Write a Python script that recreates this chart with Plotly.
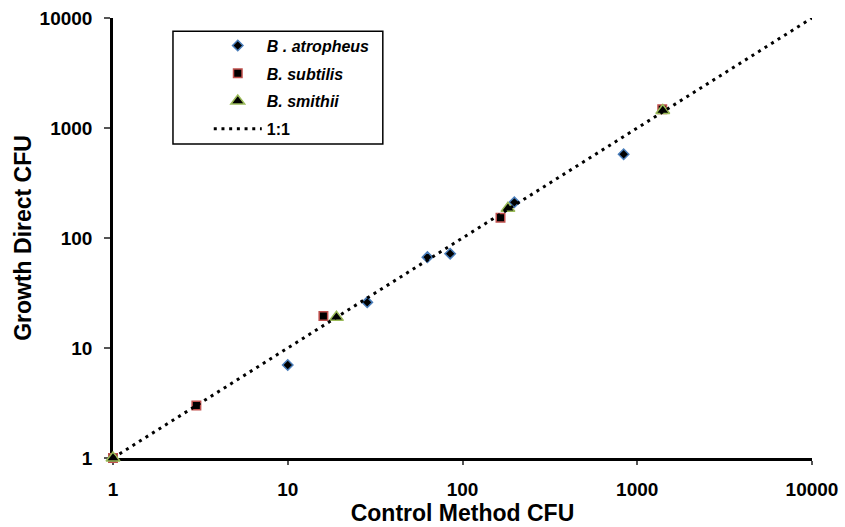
import plotly.graph_objects as go

# Data
atro_x = [10, 28.5, 63, 85, 198, 836]
atro_y = [7, 26, 67, 72, 211, 577]
subt_x = [1, 3, 16, 165, 1390]
subt_y = [1, 3, 19.5, 153, 1480]
smit_x = [1, 19, 182, 1400]
smit_y = [1, 19, 186, 1440]
line_x = [1, 10000]
line_y = [1, 10000]
tick_vals = [1, 10, 100, 1000, 10000]
tick_text = ["1", "10", "100", "1000", "10000"]

FONT = "Liberation Sans, Arial, sans-serif"

fig = go.Figure()
fig.add_trace(go.Scatter(
    x=atro_x, y=atro_y, mode="markers", name="<i>B . atropheus</i>",
    legendgroup="a", cliponaxis=False,
    marker=dict(symbol="diamond", size=8, color="black",
                line=dict(color="#4A7EBB", width=1.5))))
fig.add_trace(go.Scatter(
    x=subt_x, y=subt_y, mode="markers", name="<i>B. subtilis</i>",
    legendgroup="b", cliponaxis=False,
    marker=dict(symbol="square", size=8.5, color="black",
                line=dict(color="#C0504D", width=1.5))))
fig.add_trace(go.Scatter(
    x=smit_x, y=smit_y, mode="markers", name="<i>B. smithii</i>",
    legendgroup="c", cliponaxis=False,
    marker=dict(symbol="triangle-up", size=12, color="black",
                line=dict(color="#9BBB59", width=1.5))))
fig.add_trace(go.Scatter(
    x=line_x, y=line_y, mode="lines", name="1:1", legendgroup="d",
    line=dict(color="black", width=3, dash="3px,4.7px")))

axis_common = dict(
    type="log", range=[0, 4], tickvals=tick_vals, ticktext=tick_text,
    showgrid=False, zeroline=False, showline=True, linecolor="black",
    linewidth=2.5, ticks="outside", tickcolor="#555", tickwidth=1.5,
    automargin=False, layer="below traces",
    tickfont=dict(family=FONT, size=19, color="black", weight="bold"),
)

fig.update_xaxes(**axis_common, ticklen=4, ticklabelstandoff=8,
                 title=dict(text="Control Method CFU", standoff=6,
                            font=dict(family=FONT, size=23, color="black", weight="bold")))
fig.update_yaxes(**axis_common, ticklen=6, ticklabelstandoff=8,
                 title=dict(text="Growth Direct CFU", standoff=2,
                            font=dict(family=FONT, size=23, color="black", weight="bold")))

fig.add_shape(type="rect", xref="paper", yref="paper",
              x0=0.0858, x1=0.386, y0=0.7136, y1=0.970,
              line=dict(color="black", width=1.5), fillcolor="rgba(0,0,0,0)")

fig.update_layout(
    width=845, height=527,
    margin=dict(l=113, r=33, t=18, b=69),
    plot_bgcolor="white", paper_bgcolor="white",
    showlegend=True,
    legend=dict(x=0.137, y=0.976, xanchor="left", yanchor="top",
                bgcolor="rgba(0,0,0,0)", borderwidth=0,
                itemwidth=48, traceorder="grouped", tracegroupgap=4,
                font=dict(family=FONT, size=16, color="black", weight="bold")),
)

fig.write_html("out.html", config={"displayModeBar": False},
               post_script="document.body.style.margin='0px';")
